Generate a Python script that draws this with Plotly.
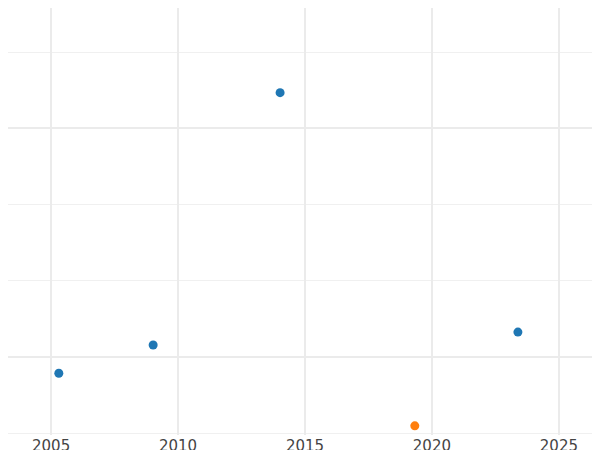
import plotly.graph_objects as go

dates_a = ["2005-04-22", "2009-01-08", "2014-01-08", "2023-05-22"]
values_a = [-2.1, 1.6, 34.7, 3.3]
dates_b = ["2019-04-30"]
values_b = [-9.0]

fig = go.Figure()
fig.add_trace(go.Scatter(x=dates_a, y=values_a, mode="markers",
                         marker=dict(color="#1f77b4", size=9), showlegend=False))
fig.add_trace(go.Scatter(x=dates_b, y=values_b, mode="markers",
                         marker=dict(color="#ff7f0e", size=9), showlegend=False))
fig.update_layout(
    width=600, height=450, margin=dict(l=0, r=0, t=0, b=23, pad=0),
    plot_bgcolor="white", paper_bgcolor="white",
    font=dict(family="DejaVu Sans", size=15, color="#444"),
    xaxis=dict(type="date", range=["2003-04-22", "2026-12-08"], dtick="M60",
               tick0="2005-01-01", showgrid=True, gridcolor="#ebebeb", gridwidth=2,
               zeroline=False, showline=False, ticks="", automargin=False),
    yaxis=dict(range=[-10.2, 45.8], dtick=30, tick0=0, showgrid=True,
               gridcolor="#ebebeb", gridwidth=2, zeroline=False,
               showticklabels=False, automargin=False,
               minor=dict(dtick=10, tick0=0, showgrid=True, gridcolor="#f0f0f0", gridwidth=1)),
)
fig.write_html("out.html")
